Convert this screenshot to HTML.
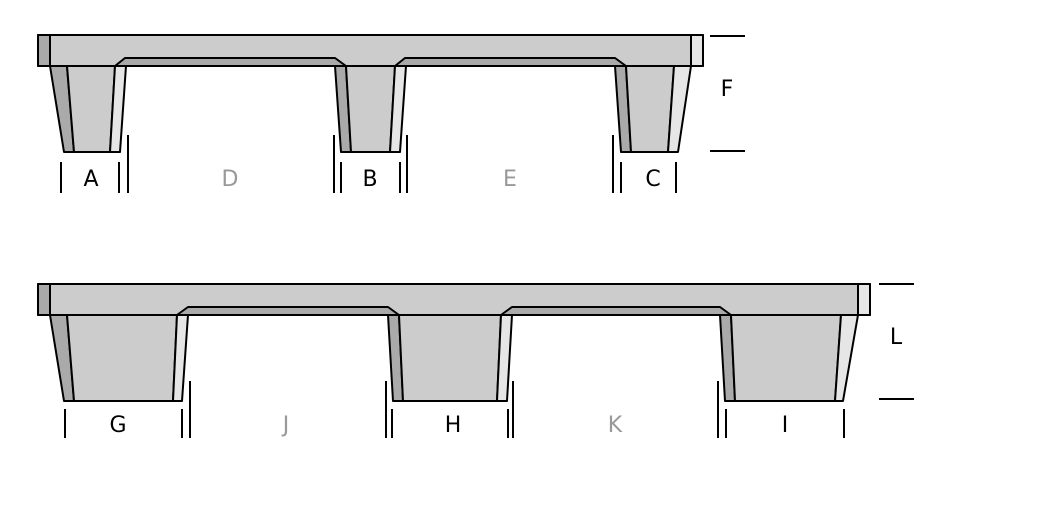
<!DOCTYPE html><html><head><style>body{margin:0;background:#fff}svg{display:block}text{font-family:"DejaVu Sans","Liberation Sans",sans-serif;font-size:22px;text-anchor:middle;dominant-baseline:middle}</style></head><body>
<svg width="1042" height="521" viewBox="0 0 1042 521" stroke="#000" stroke-width="2" stroke-linejoin="round">
<g>
<rect x="38" y="35" width="665" height="31" fill="#ccc"/>
<rect x="38" y="35" width="12" height="31" fill="#aaa"/>
<rect x="691" y="35" width="12" height="31" fill="#e6e6e6"/>
<polygon points="115,66 125,58 335,58 346,66" fill="#aaa"/>
<polygon points="395,66 405,58 615,58 626,66" fill="#aaa"/>
<polygon points="50,66 67,66 74,152 64,152" fill="#aaa"/>
<polygon points="67,66 115,66 110,152 74,152" fill="#ccc"/>
<polygon points="115,66 126,66 120,152 110,152" fill="#e6e6e6"/>
<polygon points="335,66 346,66 351,152 341,152" fill="#aaa"/>
<polygon points="346,66 395,66 390,152 351,152" fill="#ccc"/>
<polygon points="395,66 406,66 400,152 390,152" fill="#e6e6e6"/>
<polygon points="615,66 626,66 631,152 621,152" fill="#aaa"/>
<polygon points="626,66 674,66 668,152 631,152" fill="#ccc"/>
<polygon points="674,66 691,66 678,152 668,152" fill="#e6e6e6"/>
<path d="M61 162V193M119 162V193M128 135V193M334 135V193M341 162V193M400 162V193M407 135V193M613 135V193M621 162V193M676 162V193M710 36H745M710 151H745" fill="none"/>
</g>
<g stroke="none">
<text x="91" y="180">A</text><text x="230" y="180" fill="#999">D</text><text x="370" y="180">B</text><text x="510" y="180" fill="#999">E</text><text x="653" y="180">C</text><text x="727" y="90">F</text>
</g>
<g>
<rect x="38" y="284" width="832" height="31" fill="#ccc"/>
<rect x="38" y="284" width="12" height="31" fill="#aaa"/>
<rect x="858" y="284" width="12" height="31" fill="#e6e6e6"/>
<polygon points="177,315 188,307 388,307 399,315" fill="#aaa"/>
<polygon points="501,315 512,307 720,307 731,315" fill="#aaa"/>
<polygon points="50,315 67,315 74,401 64,401" fill="#aaa"/>
<polygon points="67,315 177,315 173,401 74,401" fill="#ccc"/>
<polygon points="177,315 188,315 182,401 173,401" fill="#e6e6e6"/>
<polygon points="388,315 399,315 403,401 393,401" fill="#aaa"/>
<polygon points="399,315 501,315 497,401 403,401" fill="#ccc"/>
<polygon points="501,315 512,315 507,401 497,401" fill="#e6e6e6"/>
<polygon points="720,315 731,315 735,401 725,401" fill="#aaa"/>
<polygon points="731,315 841,315 835,401 735,401" fill="#ccc"/>
<polygon points="841,315 858,315 843,401 835,401" fill="#e6e6e6"/>
<path d="M65 409V438M182 409V438M190 381V438M386 381V438M392 409V438M508 409V438M513 381V438M718 381V438M726 409V438M844 409V438M879 284H914M879 399H914" fill="none"/>
</g>
<g stroke="none">
<text x="118" y="426">G</text><text x="286" y="426" fill="#999">J</text><text x="453" y="426">H</text><text x="615" y="426" fill="#999">K</text><text x="785" y="426">I</text><text x="896" y="338">L</text>
</g>
</svg></body></html>
